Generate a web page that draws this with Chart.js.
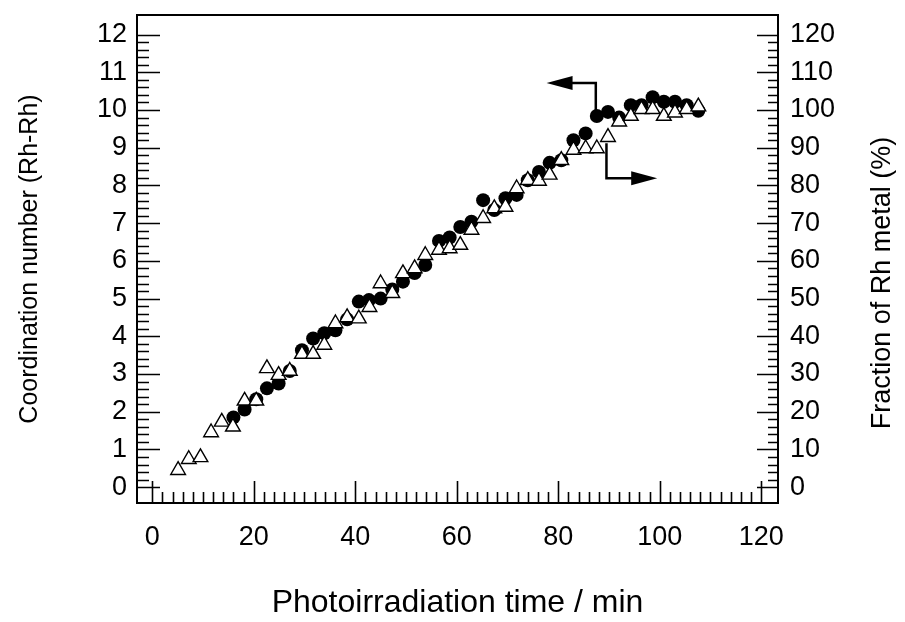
<!DOCTYPE html>
<html>
<head>
<meta charset="utf-8">
<script src="https://cdn.jsdelivr.net/npm/chart.js@4.4.1/dist/chart.umd.min.js"></script>
<style>
  html, body { margin: 0; padding: 0; background: #fff; }
</style>
</head>
<body>
<canvas id="myChart" width="905" height="622"></canvas>
<script>
// coordination number (Rh-Rh), filled circles, left axis
const cnTime = [16.0, 18.2, 20.5, 22.6, 24.9, 27.1, 29.5, 31.7, 33.9, 36.1, 38.4, 40.7, 42.7, 45.0,
  47.3, 49.4, 51.7, 53.8, 56.5, 58.6, 60.7, 62.9, 65.2, 67.4, 69.6, 71.8, 74.0, 76.2, 78.3, 80.6,
  83.0, 85.4, 87.6, 89.8, 92.0, 94.3, 96.4, 98.6, 100.8, 103.0, 105.3, 107.6];
const cnValue = [1.85, 2.06, 2.33, 2.62, 2.75, 3.08, 3.63, 3.94, 4.08, 4.16, 4.45, 4.92, 4.96, 5.00,
  5.24, 5.45, 5.68, 5.89, 6.53, 6.62, 6.90, 7.04, 7.61, 7.35, 7.66, 7.75, 8.14, 8.36, 8.60, 8.67,
  9.20, 9.38, 9.84, 9.95, 9.80, 10.13, 10.13, 10.34, 10.22, 10.22, 10.13, 9.98];

// fraction of Rh metal (%), open triangles, right axis
const fracTime = [5.1, 7.2, 9.5, 11.6, 13.7, 15.9, 18.2, 20.5, 22.6, 24.9, 27.1, 29.5, 31.7, 33.9,
  36.1, 38.4, 40.7, 42.8, 45.0, 47.3, 49.4, 51.7, 53.8, 56.5, 58.6, 60.7, 62.9, 65.2, 67.4, 69.6,
  71.8, 74.0, 76.2, 78.3, 80.6, 83.0, 85.4, 87.6, 89.8, 92.0, 94.3, 96.4, 98.6, 100.8, 103.0, 105.3, 107.6];
const fracValue = [4.5, 7.4, 7.9, 14.5, 17.3, 16.0, 22.9, 22.9, 31.5, 29.7, 30.8, 35.3, 35.3, 37.7,
  43.4, 45.0, 44.7, 47.7, 54.0, 51.4, 56.7, 58.0, 61.5, 62.9, 63.3, 64.2, 68.2, 71.3, 73.9, 74.3,
  79.2, 81.4, 81.2, 82.8, 86.7, 89.4, 89.8, 89.8, 92.8, 96.9, 98.4, 100.2, 100.2, 98.4, 99.3, 100.2, 100.9];

// tick labels
const timeTicks = [0, 20, 40, 60, 80, 100, 120];
const cnTicks = [0, 1, 2, 3, 4, 5, 6, 7, 8, 9, 10, 11, 12];
const fracTicks = [0, 10, 20, 30, 40, 50, 60, 70, 80, 90, 100, 110, 120];

// arrows pointing to each axis (time, coordination number)
const arrowLeft = [[87.4, 9.91], [87.4, 10.72], [77.7, 10.72]];
const arrowRight = [[89.5, 9.12], [89.5, 8.19], [99.5, 8.19]];

const FONT = "'Liberation Sans', Arial, sans-serif";
const rightTitle = 'Fraction of Rh metal (%)';

// frame, inward tick marks, arrows and the right axis title (reads bottom to top)
const frameTicks = {
  id: 'frameTicks',
  afterDatasetsDraw(chart) {
    const ctx = chart.ctx;
    const a = chart.chartArea;
    const sx = chart.scales.x, sy = chart.scales.y, sy2 = chart.scales.y2;
    ctx.save();
    ctx.strokeStyle = '#000';
    ctx.lineWidth = 2;
    ctx.strokeRect(a.left, a.top, a.right - a.left, a.bottom - a.top);

    ctx.beginPath();
    for (let i = 0; i <= 60; i++) {
      // x axis every 2 min, major every 20
      const px = Math.round(sx.getPixelForValue(i * 2)) + 0.5;
      const lx = (i % 10 === 0) ? 22 : 11;
      ctx.moveTo(px, a.bottom);
      ctx.lineTo(px, a.bottom - lx);
      // left axis every 0.2, major every 1
      const py = Math.round(sy.getPixelForValue(i / 5)) + 0.5;
      const ly = (i % 5 === 0) ? 23 : 12;
      ctx.moveTo(a.left, py);
      ctx.lineTo(a.left + ly, py);
      // right axis every 2 %, major every 10
      const py2 = Math.round(sy2.getPixelForValue(i * 2)) + 0.5;
      const ly2 = (i % 5 === 0) ? 21 : 10;
      ctx.moveTo(a.right, py2);
      ctx.lineTo(a.right - ly2, py2);
    }
    ctx.lineWidth = 1.6;
    ctx.stroke();

    function arrow(pts) {
      const p = pts.map(q => [sx.getPixelForValue(q[0]), sy.getPixelForValue(q[1])]);
      const n = p.length;
      const tip = p[n - 1], prev = p[n - 2];
      const ang = Math.atan2(tip[1] - prev[1], tip[0] - prev[0]);
      const hl = 26, hw = 7;
      ctx.beginPath();
      ctx.moveTo(p[0][0], p[0][1]);
      for (let k = 1; k < n - 1; k++) ctx.lineTo(p[k][0], p[k][1]);
      ctx.lineTo(tip[0] - Math.cos(ang) * (hl - 2), tip[1] - Math.sin(ang) * (hl - 2));
      ctx.lineWidth = 2.5;
      ctx.stroke();
      ctx.beginPath();
      ctx.moveTo(tip[0], tip[1]);
      ctx.lineTo(tip[0] - Math.cos(ang) * hl - Math.sin(ang) * hw, tip[1] - Math.sin(ang) * hl + Math.cos(ang) * hw);
      ctx.lineTo(tip[0] - Math.cos(ang) * hl + Math.sin(ang) * hw, tip[1] - Math.sin(ang) * hl - Math.cos(ang) * hw);
      ctx.closePath();
      ctx.fillStyle = '#000';
      ctx.fill();
    }
    arrow(arrowLeft);
    arrow(arrowRight);

    // right title
    ctx.translate(883, 283);
    ctx.rotate(-Math.PI / 2);
    ctx.font = '27px ' + FONT;
    ctx.fillStyle = '#000';
    ctx.textAlign = 'center';
    ctx.textBaseline = 'middle';
    ctx.fillText(rightTitle, 0, 0);
    ctx.restore();
  }
};

// fixed box sizes so the plot area sits where it does in the figure
function fixBox(size) {
  return s => {
    if (s.isHorizontal()) { s.height = size; s.paddingLeft = 0; s.paddingRight = 0; }
    else { s.width = size; s.paddingTop = 0; s.paddingBottom = 0; }
  };
}

const ctx = document.getElementById('myChart').getContext('2d');
new Chart(ctx, {
  type: 'scatter',
  data: {
    datasets: [
      {
        label: 'Fraction of Rh metal',
        data: fracTime.map((t, i) => ({ x: t, y: fracValue[i] })),
        yAxisID: 'y2',
        pointStyle: 'triangle',
        pointRadius: 8.5,
        pointBackgroundColor: '#fff',
        pointBorderColor: '#000',
        pointBorderWidth: 1.4,
        order: 1
      },
      {
        label: 'Coordination number',
        data: cnTime.map((t, i) => ({ x: t, y: cnValue[i] })),
        yAxisID: 'y',
        pointStyle: 'circle',
        pointRadius: 7,
        pointBackgroundColor: '#000',
        pointBorderColor: '#000',
        pointBorderWidth: 0,
        order: 2
      }
    ]
  },
  options: {
    responsive: false,
    animation: false,
    devicePixelRatio: 1,
    layout: { padding: { top: 15, left: 0, right: 0, bottom: 0 } },
    plugins: {
      legend: { display: false },
      tooltip: { enabled: false }
    },
    scales: {
      x: {
        type: 'linear',
        min: -3,
        max: 123.3,
        grid: { display: false, drawTicks: false },
        border: { display: false },
        afterBuildTicks: s => { s.ticks = timeTicks.map(v => ({ value: v })); },
        afterFit: fixBox(119),
        ticks: { color: '#000', font: { family: FONT, size: 27 }, padding: 18, maxRotation: 0 },
        title: {
          display: true,
          text: 'Photoirradiation time / min',
          color: '#000',
          font: { family: FONT, size: 32 },
          padding: { top: 0, bottom: 0 }
        }
      },
      y: {
        type: 'linear',
        position: 'left',
        min: -0.42,
        max: 12.52,
        grid: { display: false, drawTicks: false },
        border: { display: false },
        afterBuildTicks: s => { s.ticks = cnTicks.map(v => ({ value: v })); },
        afterFit: fixBox(137),
        ticks: { color: '#000', font: { family: FONT, size: 27 }, padding: 10 },
        title: {
          display: true,
          text: 'Coordination number (Rh-Rh)',
          color: '#000',
          font: { family: FONT, size: 25 },
          padding: { top: 15, bottom: 0 }
        }
      },
      y2: {
        type: 'linear',
        position: 'right',
        min: -4.2,
        max: 125.2,
        grid: { display: false, drawTicks: false },
        border: { display: false },
        afterBuildTicks: s => { s.ticks = fracTicks.map(v => ({ value: v })); },
        afterFit: fixBox(127),
        ticks: { color: '#000', font: { family: FONT, size: 27 }, padding: 12 },
        title: { display: false }
      }
    }
  },
  plugins: [frameTicks]
});
</script>
</body>
</html>
